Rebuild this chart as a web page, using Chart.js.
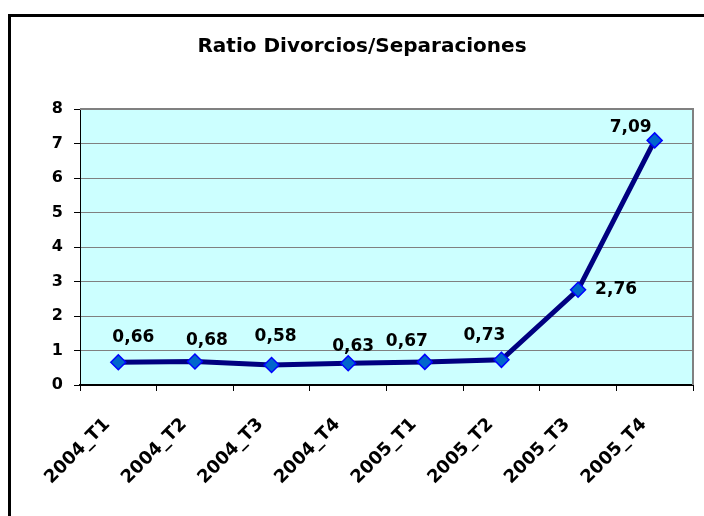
<!DOCTYPE html>
<html>
<head>
<meta charset="utf-8">
<title>Ratio Divorcios/Separaciones</title>
<script src="https://cdn.jsdelivr.net/npm/chart.js@4.4.0/dist/chart.umd.min.js"></script>
<style>
    html, body { margin: 0; padding: 0; background: #fff; overflow: hidden; }
    #wrap { position: relative; width: 704px; height: 516px; overflow: hidden; }
    #chart { position: absolute; left: 0; top: 0; }
    #frame {
        position: absolute; left: 8px; top: 14px; width: 730px; height: 560px;
        border: 3px solid #000; box-sizing: border-box; pointer-events: none;
    }
</style>
</head>
<body>
<div id="wrap">
    <canvas id="chart" width="704" height="516"></canvas>
    <div id="frame"></div>
</div>
<script>
// chart data
var quarters = ['2004_T1', '2004_T2', '2004_T3', '2004_T4', '2005_T1', '2005_T2', '2005_T3', '2005_T4'];
var ratios = [0.66, 0.68, 0.58, 0.63, 0.67, 0.73, 2.76, 7.09];
var yTicks = [0, 1, 2, 3, 4, 5, 6, 7, 8];
var chartTitle = 'Ratio Divorcios/Separaciones';

// where each value label sits relative to its point (dx, dy in px)
var labelOffsets = [[15, -25], [12, -21], [4, -28], [5, -17], [-18, -20], [-17, -24], [38, 0], [-24, -13]];

var FONT = "'DejaVu Sans', 'Liberation Sans', Arial, sans-serif";

function fmt(v) {
    return v.toFixed(2).replace('.', ',');
}

var plotBackground = {
    id: 'plotBackground',
    beforeDraw: function(chart) {
        var a = chart.chartArea, ctx = chart.ctx;
        ctx.save();
        ctx.fillStyle = '#CCFFFF';
        ctx.fillRect(a.left, a.top, a.right - a.left, a.bottom - a.top);
        ctx.restore();
    },
    afterDraw: function(chart) {
        var a = chart.chartArea, ctx = chart.ctx;
        ctx.save();
        // gray frame on top and right side of the plot
        ctx.strokeStyle = '#808080';
        ctx.lineWidth = 2;
        ctx.beginPath();
        ctx.moveTo(a.left, a.top);
        ctx.lineTo(a.right, a.top);
        ctx.lineTo(a.right, a.bottom);
        ctx.stroke();
        // title, centred on the whole (cropped) chart box
        ctx.font = 'bold 20px ' + FONT;
        ctx.fillStyle = '#000';
        ctx.textAlign = 'center';
        ctx.textBaseline = 'middle';
        ctx.fillText(chartTitle, 362, 47);
        ctx.restore();
    }
};

var valueLabels = {
    id: 'valueLabels',
    afterDatasetsDraw: function(chart) {
        var ctx = chart.ctx;
        var meta = chart.getDatasetMeta(0);
        ctx.save();
        ctx.font = 'bold 17px ' + FONT;
        ctx.fillStyle = '#000';
        ctx.textAlign = 'center';
        ctx.textBaseline = 'middle';
        meta.data.forEach(function(pt, i) {
            var off = labelOffsets[i];
            ctx.fillText(fmt(ratios[i]), pt.x + off[0], pt.y + off[1]);
        });
        ctx.restore();
    }
};

new Chart(document.getElementById('chart'), {
    type: 'line',
    data: {
        labels: quarters,
        datasets: [{
            label: 'Ratio',
            data: ratios,
            borderColor: '#000080',
            borderWidth: 5,
            tension: 0,
            pointStyle: 'rectRot',
            pointRadius: 7.5,
            pointBackgroundColor: '#0066CC',
            pointBorderColor: '#0000FF',
            pointBorderWidth: 1.5,
            clip: false
        }]
    },
    options: {
        responsive: false,
        animation: false,
        layout: {
            padding: { left: 0, right: 11, top: 109, bottom: 0 }
        },
        plugins: {
            legend: { display: false },
            tooltip: { enabled: false },
            title: { display: false }
        },
        scales: {
            x: {
                offset: true,
                grid: {
                    offset: true,
                    drawOnChartArea: false,
                    tickLength: 6,
                    tickColor: '#000'
                },
                border: { color: '#000', width: 2 },
                ticks: {
                    color: '#000',
                    font: { family: FONT, size: 18, weight: 'bold' },
                    maxRotation: 45,
                    minRotation: 45,
                    padding: 23,
                    labelOffset: -11
                },
                afterFit: function(scale) { scale.height = 131; }
            },
            y: {
                min: 0,
                max: 8,
                afterBuildTicks: function(scale) {
                    scale.ticks = yTicks.map(function(v) { return { value: v }; });
                },
                grid: {
                    color: '#808080',
                    tickColor: '#000',
                    tickLength: 6
                },
                border: { color: '#000', width: 1 },
                ticks: {
                    color: '#000',
                    font: { family: FONT, size: 16, weight: 'bold' },
                    padding: 11
                },
                afterFit: function(scale) { scale.width = 80; }
            }
        }
    },
    plugins: [plotBackground, valueLabels]
});
</script>
</body>
</html>
